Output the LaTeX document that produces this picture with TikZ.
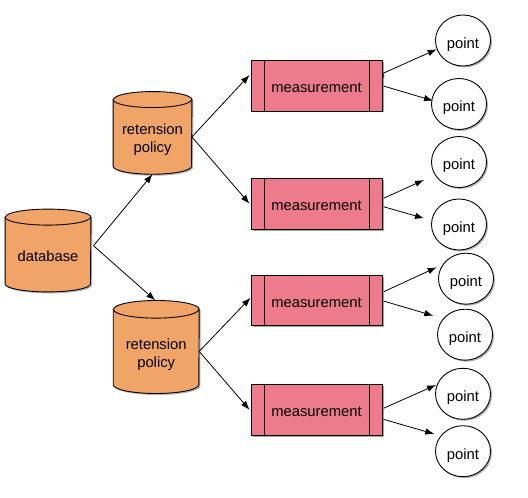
\documentclass[tikz,border=0pt]{standalone}
\usepackage{fontspec}
\setmainfont{Liberation Sans}
\usetikzlibrary{shapes.geometric,shadows,backgrounds,calc,arrows.meta}
\definecolor{cylfill}{RGB}{240,164,104}
\definecolor{boxfill}{RGB}{238,123,140}
\tikzset{
  every node/.style={font=\fontsize{14.8bp}{18.2bp}\selectfont, text=black},
  lbl/.style={align=center, inner sep=0pt, text depth=0bp},
  cylline/.style={draw=black, line width=0.9bp},
  meas/.style={rectangle, draw=black, line width=0.9bp, fill=boxfill, minimum width=131bp, minimum height=50.5bp, inner sep=0pt,
    text height=14bp, text depth=0bp,
    drop shadow={shadow xshift=1.5bp, shadow yshift=-1.5bp, opacity=.35, fill=black},
    path picture={\draw[line width=0.9bp] ([xshift=13bp]path picture bounding box.north west) -- ([xshift=13bp]path picture bounding box.south west);
                  \draw[line width=0.9bp] ([xshift=-13bp]path picture bounding box.north east) -- ([xshift=-13bp]path picture bounding box.south east);}},
  pt/.style={ellipse, draw=black, line width=0.9bp, fill=white, minimum width=55bp, minimum height=51bp, inner sep=0pt,
    text height=15.6bp, text depth=0bp,
    drop shadow={shadow xshift=1.5bp, shadow yshift=-1.5bp, opacity=.3, fill=black}},
  arr/.style={line width=0.8bp, -{Latex[length=9bp,width=6.5bp]}}
}
\newcommand\mycyl[3]{%
  \fill[black,opacity=.3,transform canvas={shift={(1.5bp,-1.5bp)}}] (#1.north west) -- ([yshift=#3]#1.south west) arc[start angle=180,end angle=360,x radius=#2,y radius=#3] -- (#1.north east) arc[start angle=0,end angle=180,x radius=#2,y radius=#3] -- cycle;
  \draw[cylline,fill=cylfill] (#1.north west) -- ([yshift=#3]#1.south west) arc[start angle=180,end angle=360,x radius=#2,y radius=#3] -- (#1.north east) arc[start angle=0,end angle=180,x radius=#2,y radius=#3] -- cycle;
  \draw[cylline] (#1.north west) arc[start angle=180,end angle=360,x radius=#2,y radius=#3];
}
\begin{document}
\begin{tikzpicture}[x=1bp,y=-1bp]
\useasboundingbox (0,0) rectangle (528,498);
% cylinder bodies (invisible nodes carrying the text)
\node[lbl, text height=13bp, minimum width=85.4bp, minimum height=74.4bp] (db) at (48,254.5) {database};
\node[lbl, text height=31.2bp, minimum width=78.4bp, minimum height=74.3bp] (rp1) at (152.5,136.9) {retension\\policy};
\node[lbl, text height=32.2bp, minimum width=85.6bp, minimum height=83.8bp] (rp2) at (156.2,351.4) {retension\\policy};
\begin{pgfonlayer}{background}
\mycyl{db}{42.7bp}{8bp}
\mycyl{rp1}{39.2bp}{8bp}
\mycyl{rp2}{42.8bp}{8.8bp}
\end{pgfonlayer}
% measurements
\node[meas] (m1) at (316.5,85.75) {measurement};
\node[meas] (m2) at (316.5,203.8) {measurement};
\node[meas] (m3) at (316.5,300.3) {measurement};
\node[meas] (m4) at (316.5,409.8) {measurement};
% points
\node[pt] (p1) at (463,40.5) {point};
\node[pt] (p2) at (459,104) {point};
\node[pt] (p3) at (459,162) {point};
\node[pt] (p4) at (459,224.5) {point};
\node[pt] (p5) at (466,278.7) {point};
\node[pt] (p6) at (465,334.7) {point};
\node[pt] (p7) at (463,393.8) {point};
\node[pt] (p8) at (463,451.2) {point};
% connectors
\draw[arr] ($(db.east)+(2.6,-8.8)$) -- (rp1.south);
\draw[arr] ($(db.east)+(2.6,-8.8)$) -- ($(rp2.north)+(-1,-9)$);
\draw[arr] (rp1.east) -- ($(m1.west)+(-1,-10.75)$);
\draw[arr] (rp1.east) -- ($(m2.west)+(-1,0)$);
\draw[arr] (rp2.east) -- ($(m3.west)+(0,-2.6)$);
\draw[arr] (rp2.east) -- ($(m4.west)+(-1,0)$);
\draw[arr] ($(m1.east)+(1.3,-7.75)$) -- ($(m1.east)+(1.3,-12.75)$) -- ($(p1.center)+(-26.3,8.8)$);
\draw[arr] ($(m1.east)+(1,0.25)$) -- ($(p2.center)+(-26,-3.3)$);
\draw[arr] ($(m2.east)+(1,-5.5)$) -- ($(p3.center)+(-35,18)$);
\draw[arr] ($(m2.east)+(1,2.9)$) -- ($(p4.center)+(-35,-6.2)$);
\draw[arr] ($(m3.east)+(1.3,-8.6)$) -- ($(p5.center)+(-29.3,-11.4)$);
\draw[arr] ($(m3.east)+(1,0.7)$) -- ($(p6.center)+(-31.7,-19)$);
\draw[arr] ($(m4.east)+(1,-1.5)$) -- ($(p7.center)+(-27,-8.8)$);
\draw[arr] ($(m4.east)+(1,9.5)$) -- ($(p8.center)+(-28.7,-17.2)$);
\end{tikzpicture}
\end{document}
